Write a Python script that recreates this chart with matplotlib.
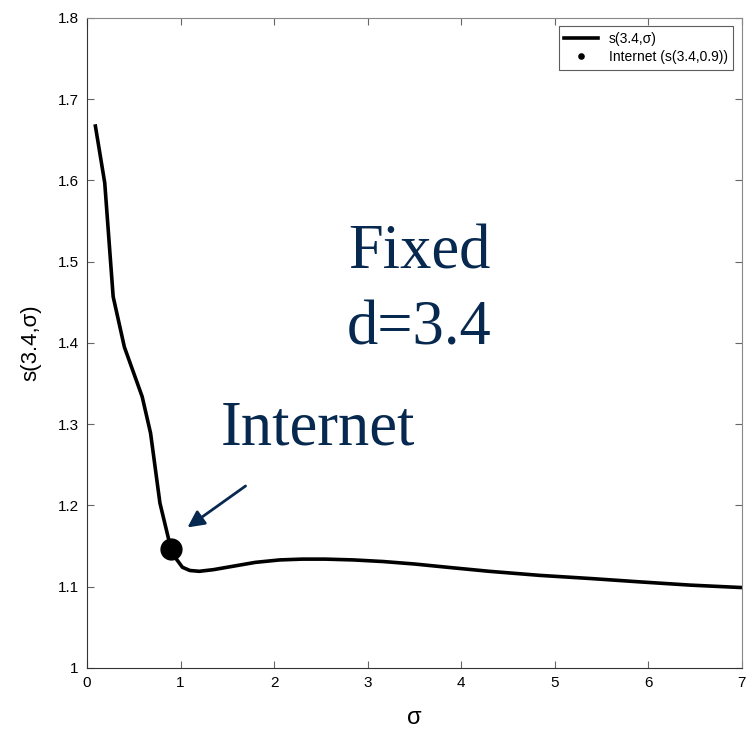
import numpy as np
import matplotlib.pyplot as plt

# curve s(3.4, sigma)
sigma = [0.09, 0.19, 0.28, 0.40, 0.59, 0.68, 0.78, 0.87, 0.90, 0.95, 1.02, 1.10, 1.20,
         1.35, 1.55, 1.80, 2.06, 2.30, 2.55, 2.85, 3.17, 3.50, 3.85, 4.30, 4.84,
         5.40, 5.91, 6.45, 7.00]
s_vals = [1.667, 1.597, 1.457, 1.395, 1.334, 1.289, 1.203, 1.160, 1.146, 1.135, 1.124,
          1.120, 1.119, 1.121, 1.125, 1.130, 1.133, 1.134, 1.134, 1.133, 1.131, 1.128,
          1.124, 1.119, 1.114, 1.110, 1.106, 1.102, 1.099]

internet_x = [0.9]
internet_y = [1.146]

xticks = [0, 1, 2, 3, 4, 5, 6, 7]
yticks = [1, 1.1, 1.2, 1.3, 1.4, 1.5, 1.6, 1.7, 1.8]
ytick_labels = ['1', '1.1', '1.2', '1.3', '1.4', '1.5', '1.6', '1.7', '1.8']

navy = '#07294f'

plt.rcParams['font.family'] = ['Liberation Sans', 'DejaVu Sans']

fig = plt.figure(figsize=(7.53, 7.40), dpi=100)
ax = fig.add_axes([0.1155, 0.0973, 0.8695, 0.8784])

ax.plot(sigma, s_vals, color='black', linewidth=2.6, label='s(3.4,σ)',
        solid_joinstyle='round')
ax.plot(internet_x, internet_y, 'o', color='black', markersize=15,
        label='Internet (s(3.4,0.9))')

ax.set_xlim(0, 7)
ax.set_ylim(1, 1.8)
ax.set_xticks(xticks)
ax.set_yticks(yticks)
ax.set_yticklabels(ytick_labels)
ax.tick_params(direction='in', top=True, right=True, labelsize=11, length=5,
               color='#666666', pad=6)
ax.spines['left'].set_color('#333333')
ax.spines['bottom'].set_color('#333333')
ax.spines['top'].set_color('#888888')
ax.spines['right'].set_color('#888888')

ax.set_xlabel('σ', fontsize=17, labelpad=12)
ax.set_ylabel('s(3.4,σ)', fontsize=16, labelpad=12)

leg = ax.legend(loc='upper right', fontsize=10, frameon=True, fancybox=False,
                edgecolor='#333333', borderaxespad=0.6, handlelength=2.4,
                markerscale=0.25, borderpad=0.4, labelspacing=0.3)
leg.get_frame().set_linewidth(0.8)

ax.text(3.55, 1.492, 'Fixed', color=navy, fontsize=45,
        family='Liberation Serif', ha='center', va='baseline')
ax.text(3.55, 1.398, 'd=3.4', color=navy, fontsize=45,
        family='Liberation Serif', ha='center', va='baseline')
ax.text(2.47, 1.2745, 'Internet', color=navy, fontsize=45,
        family='Liberation Serif', ha='center', va='baseline')
ax.annotate('', xy=(1.05, 1.171), xytext=(1.72, 1.226),
            arrowprops=dict(arrowstyle='-|>', color=navy, lw=2,
                            mutation_scale=25))

fig.savefig('out.png', dpi=100)
